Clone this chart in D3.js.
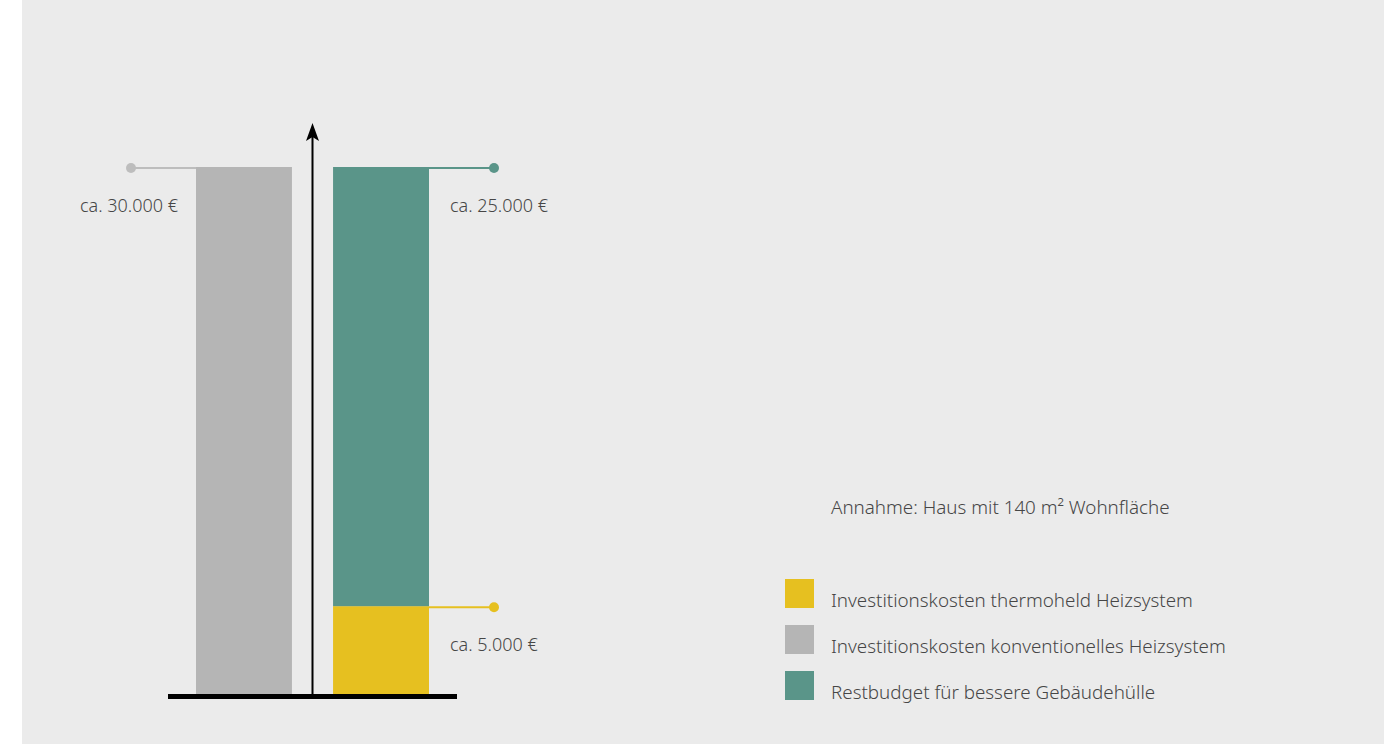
<!DOCTYPE html>
<html>
<head>
<meta charset="utf-8">
<script src="https://cdn.jsdelivr.net/npm/d3@7"></script>
<style>
  html, body { margin: 0; padding: 0; background: #ffffff; }
  svg text { font-family: "Noto Sans", "Open Sans", sans-serif; font-weight: 300; fill: #464646; }
</style>
</head>
<body>
<svg id="chart" width="1392" height="744"></svg>
<script>

// data
var categories = ['konventionell', 'thermoheld'];
var seriesKeys = ['yellow', 'grey', 'teal'];
var seriesNames = [
  'Investitionskosten thermoheld Heizsystem',
  'Investitionskosten konventionelles Heizsystem',
  'Restbudget für bessere Gebäudehülle'
];
var seriesColors = ['#e6c020', '#b5b5b5', '#5a9589'];
var yellowValues = [0, 5000];
var greyValues = [30000, 0];
var tealValues = [0, 25000];
var valueLabels = ['ca. 30.000 €', 'ca. 25.000 €', 'ca. 5.000 €'];
var noteText = 'Annahme: Haus mit 140 m² Wohnfläche';

var svg = d3.select('#chart');

// grey panel
svg.append('rect')
  .attr('x', 22).attr('y', 0)
  .attr('width', 1362).attr('height', 744)
  .attr('fill', '#ebebeb');

var rows = categories.map(function(c, i) {
  return { cat: c, yellow: yellowValues[i], grey: greyValues[i], teal: tealValues[i] };
});

var stacked = d3.stack().keys(seriesKeys)(rows);

var x = d3.scaleBand()
  .domain(categories)
  .range([196, 429])
  .paddingInner(0.3)
  .paddingOuter(0);

var y = d3.scaleLinear()
  .domain([0, 30000])
  .range([694, 167]);

var color = d3.scaleOrdinal().domain(seriesKeys).range(seriesColors);

/* ======================================
 * bars
 */
svg.append('g').selectAll('g')
  .data(stacked)
  .join('g')
    .attr('fill', function(d) { return color(d.key); })
  .selectAll('rect')
  .data(function(d) { return d.filter(function(p) { return p[1] - p[0] > 0; }); })
  .join('rect')
    .attr('x', function(p) { return x(p.data.cat); })
    .attr('y', function(p) { return y(p[1]); })
    .attr('width', x.bandwidth())
    .attr('height', function(p) { return y(p[0]) - y(p[1]); });

/* ======================================
 * arrow + baseline
 */
var axisX = (x(categories[0]) + x.bandwidth() + x(categories[1])) / 2;
var tipY = 123;

svg.append('line')
  .attr('x1', axisX).attr('x2', axisX)
  .attr('y1', y(0) + 2).attr('y2', tipY + 10)
  .attr('stroke', '#000')
  .attr('stroke-width', 2);

// arrowhead, slightly notched
svg.append('path')
  .attr('d', d3.line()([
    [axisX, tipY], [axisX + 6.5, tipY + 18], [axisX, tipY + 14],
    [axisX - 6.5, tipY + 18]
  ]) + 'Z')
  .attr('fill', '#000');

svg.append('line')
  .attr('x1', 168).attr('x2', 457)
  .attr('y1', y(0) + 2.5).attr('y2', y(0) + 2.5)
  .attr('stroke', '#000')
  .attr('stroke-width', 5);

/* ======================================
 * leader lines with dots and value labels
 */
var leaders = [
  { x0: x(categories[0]), x1: 131, v: greyValues[0], col: '#bdbdbd', label: valueLabels[0], anchor: 'end', tx: 178 },
  { x0: x(categories[1]) + x.bandwidth(), x1: 494, v: tealValues[1] + yellowValues[1], col: seriesColors[2], label: valueLabels[1], anchor: 'start', tx: 450 },
  { x0: x(categories[1]) + x.bandwidth(), x1: 494, v: yellowValues[1], col: seriesColors[0], label: valueLabels[2], anchor: 'start', tx: 450 }
];

var lg = svg.append('g').selectAll('g').data(leaders).join('g');

lg.append('line')
  .attr('x1', function(d) { return d.x0; })
  .attr('x2', function(d) { return d.x1; })
  .attr('y1', function(d) { return y(d.v) + 1; })
  .attr('y2', function(d) { return y(d.v) + 1; })
  .attr('stroke', function(d) { return d.col; })
  .attr('stroke-width', 2);

lg.append('circle')
  .attr('cx', function(d) { return d.x1; })
  .attr('cy', function(d) { return y(d.v) + 1; })
  .attr('r', 5)
  .attr('fill', function(d) { return d.col; });

lg.append('text')
  .attr('x', function(d) { return d.tx; })
  .attr('y', function(d) { return y(d.v) + 45; })
  .attr('text-anchor', function(d) { return d.anchor; })
  .attr('font-size', 18)
  .text(function(d) { return d.label; });

/* ======================================
 * note + legend
 */
svg.append('text')
  .attr('x', 831).attr('y', 514)
  .attr('font-size', 18.8)
  .text(noteText);

var legend = svg.append('g').selectAll('g')
  .data(seriesKeys)
  .join('g')
    .attr('transform', function(d, i) { return 'translate(785,' + (579 + i * 46) + ')'; });

legend.append('rect')
  .attr('width', 29).attr('height', 29)
  .attr('fill', function(d) { return color(d); });

legend.append('text')
  .attr('x', 46).attr('y', 28)
  .attr('font-size', 18.8)
  .text(function(d, i) { return seriesNames[i]; });

</script>
</body>
</html>
